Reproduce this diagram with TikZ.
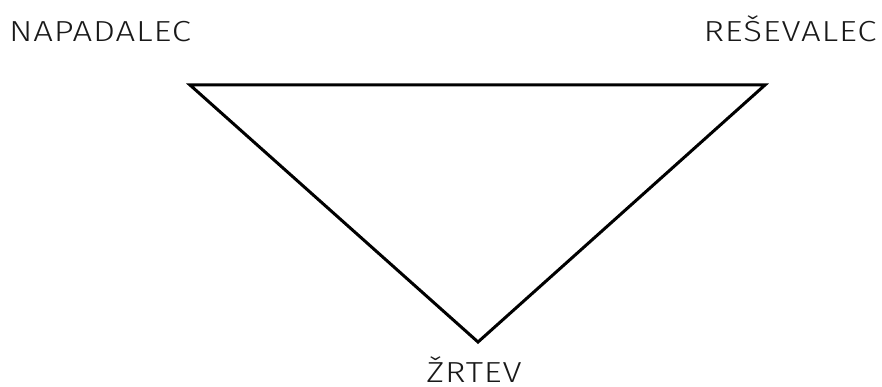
\documentclass[tikz,border=0pt]{standalone}
\usepackage{fontspec}
\setmainfont{Fira Sans}[UprightFont=* Light, FakeStretch=1.2, LetterSpace=3]
\tikzset{lbl/.style={font=\fontsize{29}{30}\selectfont, inner sep=0pt, text depth=0pt, text=black!90}}
\begin{document}
\begin{tikzpicture}[x=1pt,y=-1pt]
\useasboundingbox (0,0) rectangle (882,387);
\coordinate (a) at (190,85);
\coordinate (b) at (765,85);
\coordinate (c) at (478,342);
\draw[line width=3pt, line join=miter] (a) -- (b) -- (c) -- cycle;
\node[lbl, anchor=base] (n1) at (100,41.5) {NAPADALEC};
\node[lbl, anchor=base] (n2) at (790,41.5) {REŠEVALEC};
\node[lbl, anchor=base] (n3) at (474,382) {ŽRTEV};
\end{tikzpicture}
\end{document}
